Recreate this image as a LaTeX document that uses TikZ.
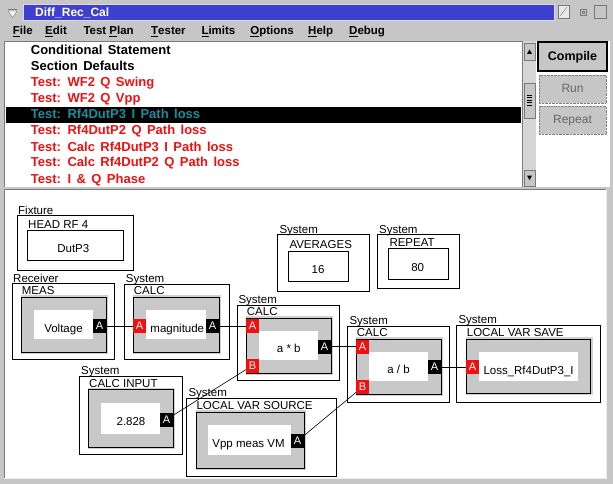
\documentclass[tikz,border=0pt]{standalone}
\usepackage{fontspec}
\setmainfont{Liberation Sans}
\newfontfamily\listfont{Liberation Sans}[WordSpace=1.5]
\definecolor{winbg}{HTML}{C6C6C6}
\definecolor{titleblue}{HTML}{4040D0}
\definecolor{listred}{HTML}{EE1111}
\definecolor{selteal}{HTML}{1E8C9C}
\definecolor{boxgray}{HTML}{C8C8C8}
\definecolor{portred}{HTML}{F01010}
\definecolor{trackgray}{HTML}{D6D6D6}
\definecolor{edgegray}{HTML}{7A7A7A}
\begin{document}
\begin{tikzpicture}[x=1pt,y=-1pt,
  lbl/.style={anchor=base west,inner sep=0pt,font=\fontsize{11.5}{13}\selectfont},
  val/.style={anchor=base,inner sep=0pt,font=\fontsize{11.5}{13}\selectfont},
  item/.style={anchor=base west,inner sep=0pt,font=\listfont\bfseries\fontsize{13}{15}\selectfont,text=listred},
  menu/.style={anchor=base west,inner sep=0pt,font=\bfseries\fontsize{11.5}{13}\selectfont},
  port/.style={minimum width=12.6pt,minimum height=14pt,inner sep=0pt,text=white,font=\fontsize{11}{13}\selectfont},
  portout/.style={port,fill=black},
  portin/.style={port,fill=portred},
  frame/.style={draw=black,line width=0.9pt},
  face/.style={draw=black,fill=boxgray,line width=0.9pt},
  rim/.style={fill=boxgray!85!white},
  well/.style={fill=white},
  wire/.style={draw=black,line width=0.9pt},
  slant/.style={draw=black,line width=0.6pt}]
\useasboundingbox (0,0) rectangle (613,484);

% window, title bar and menus
\fill[winbg] (0,0) rectangle (613,484);
\fill[titleblue] (23,4) rectangle (555,21);
\draw[white!80!titleblue] (23.5,4.5) rectangle (554.5,20.5);
\node[anchor=base west,inner sep=0pt,text=white,font=\bfseries\fontsize{12}{14}\selectfont] (title) at (35,17) {Diff\_Rec\_Cal};
\draw[edgegray] (8,9) -- (17,9);
\draw[edgegray,fill=white!85!winbg] (8,11) -- (12.5,17.5) -- (17,11) -- cycle;
\draw[edgegray,fill=white!60!winbg] (558,5) rectangle (569,18);
\draw[edgegray] (560,16) -- (567,7);
\draw[edgegray] (580,9) rectangle (586,15);
\draw[edgegray] (582,11) rectangle (584,13);
\draw[edgegray] (594,5) rectangle (606,18);

\node[menu] (mFile) at (12.7,35) {\underline{F}ile};
\node[menu] (mEdit) at (45,35) {\underline{E}dit};
\node[menu] (mPlan) at (83.3,35) {Test \underline{P}lan};
\node[menu] (mTester) at (151,35) {\underline{T}ester};
\node[menu] (mLimits) at (201.3,35) {\underline{L}imits};
\node[menu] (mOptions) at (250.2,35) {\underline{O}ptions};
\node[menu] (mHelp) at (308,35) {\underline{H}elp};
\node[menu] (mDebug) at (349,35) {\underline{D}ebug};

% test list
\fill[white] (4.5,41) rectangle (522.5,187);
\draw[edgegray] (4.5,187) -- (4.5,41) -- (522.5,41);
\fill[black] (6,107) rectangle (521,123);
\node[item,text=black] (cond) at (30.7,55) {Conditional Statement};
\node[item,text=black] (secdef) at (30.7,71) {Section Defaults};
\node[item] (swing) at (30.7,87) {Test: WF2 Q Swing};
\node[item] (vpp) at (30.7,103) {Test: WF2 Q Vpp};
\node[item,text=selteal] (selP3) at (30.7,119) {Test: Rf4DutP3 I Path loss};
\node[item] (lossP2) at (30.7,135) {Test: Rf4DutP2 Q Path loss};
\node[item] (calcP3) at (30.7,151) {Test: Calc Rf4DutP3 I Path loss};
\node[item] (calcP2) at (30.7,167) {Test: Calc Rf4DutP2 Q Path loss};
\node[item] (phase) at (30.7,183) {Test: I \& Q Phase};

% scroll bar
\fill[trackgray] (522.5,41) rectangle (536,187);
\draw[edgegray] (522.5,41) -- (522.5,187);
\draw[edgegray,fill=winbg] (524,43) rectangle (535,60);
\fill[black] (527,54) -- (532,54) -- (529.5,49.5) -- cycle;
\draw[edgegray,fill=winbg] (524,83) rectangle (535,118);
\draw[black] (527,95) -- (532,95) (527,97.5) -- (532,97.5) (527,100) -- (532,100) (527,102.5) -- (532,102.5) (527,105) -- (532,105);
\draw[edgegray,fill=winbg] (524,170) rectangle (535,186);
\fill[black] (527,175.5) -- (532,175.5) -- (529.5,180) -- cycle;

% buttons
\fill[white] (536,41) rectangle (610,187);
\draw[black,line width=2.2pt,fill=winbg] (538.1,42.1) rectangle (606.9,70.9);
\node[anchor=base,inner sep=0pt,font=\bfseries\fontsize{12.5}{14}\selectfont] (compile) at (572.5,61) {Compile};
\draw[gray,densely dotted,fill=winbg] (539,75) rectangle (606,103);
\node[anchor=base,inner sep=0pt,text=gray!80!black,font=\fontsize{12}{14}\selectfont] (run) at (572.5,93) {Run};
\draw[gray,densely dotted,fill=winbg] (539,106) rectangle (606,134);
\node[anchor=base,inner sep=0pt,text=gray!80!black,font=\fontsize{12}{14}\selectfont] (repeatBtn) at (572.5,124) {Repeat};

% diagram panel
\fill[white] (4,189) rectangle (606,478);
\draw[edgegray] (4,478) -- (4,189) -- (606,189);
\draw[white!70!winbg] (606,189) -- (606,478) -- (4,478);

% fixture
\draw[frame] (17,215) rectangle (133,270);
\node[lbl] (fixLbl) at (18,214) {Fixture};
\node[lbl] (headLbl) at (28,228.2) {HEAD RF 4};
\draw[frame] (27.3,230.7) rectangle (123.3,260.7);
\node[val] (dutP3) at (73.3,252.3) {DutP3};

% averages and repeat
\draw[frame] (277.3,234.3) rectangle (369.3,291);
\node[lbl] (avgSys) at (279.3,233) {System};
\node[lbl] (avgLbl) at (289.3,248.5) {AVERAGES};
\draw[frame] (288.3,251) rectangle (348.3,281);
\node[val] (avgVal) at (318,273.3) {16};

\draw[frame] (377.3,234.3) rectangle (459.3,288.7);
\node[lbl] (repSys) at (379,233) {System};
\node[lbl] (repLbl) at (389.3,246) {REPEAT};
\draw[frame] (388.3,248.3) rectangle (448.3,279.3);
\node[val] (repVal) at (417.7,271) {80};

% receiver
\draw[frame] (12.3,283.3) rectangle (114.3,359.3);
\node[lbl] (recSys) at (13,282) {Receiver};
\node[lbl] (measLbl) at (21.7,294.2) {MEAS};
\fill[rim] (21,295) rectangle (108,354);
\draw[face] (21,297) rectangle (106,352);
\fill[well] (34,310) rectangle (93,339);
\node[val] (voltage) at (63.5,332.3) {Voltage};

% magnitude
\draw[frame] (124.3,284) rectangle (229.3,359.3);
\node[lbl] (magSys) at (125.7,282.5) {System};
\node[lbl] (magLbl) at (133.7,294.8) {CALC};
\fill[rim] (133,295) rectangle (221,354);
\draw[face] (133,297) rectangle (219,352);
\fill[well] (146,310) rectangle (206.4,339);
\node[val] (magnitude) at (177.3,332.3) {magnitude};

% a * b
\draw[frame] (237.3,305) rectangle (339.3,380.7);
\node[lbl] (mulSys) at (238.3,303.5) {System};
\node[lbl] (mulLbl) at (246.7,315.5) {CALC};
\fill[rim] (246,316) rectangle (333,375);
\draw[face] (246,318) rectangle (331,373);
\fill[well] (259,330.7) rectangle (317.6,360);
\node[val] (mulTxt) at (288.8,352.3) {a * b};

% a / b
\draw[frame] (347.3,326) rectangle (449.3,402.3);
\node[lbl] (divSys) at (349.3,324.5) {System};
\node[lbl] (divLbl) at (356.7,336.8) {CALC};
\fill[rim] (356,337.3) rectangle (443,396.3);
\draw[face] (356,339.3) rectangle (441,394.3);
\fill[well] (369,351.7) rectangle (428.2,380.7);
\node[val] (divTxt) at (398.5,373.3) {a / b};

% local var save
\draw[frame] (456,325) rectangle (600.7,402.3);
\node[lbl] (saveSys) at (458.3,323.5) {System};
\node[lbl] (saveLbl) at (466.7,336.5) {LOCAL VAR SAVE};
\fill[rim] (466,337) rectangle (592.7,395.3);
\draw[face] (466,339) rectangle (590.7,393.3);
\fill[well] (478.8,351.7) rectangle (578.3,380.7);
\node[lbl] (saveTxt) at (483.3,374) {Loss\_Rf4DutP3\_I};

% calc input
\draw[frame] (79.3,376) rectangle (182.5,454.6);
\node[lbl] (inSys) at (81,374.5) {System};
\node[lbl] (inLbl) at (89,387) {CALC INPUT};
\fill[rim] (88.3,387.5) rectangle (175,449);
\draw[face] (88.3,389.5) rectangle (173,447);
\fill[well] (101,402.7) rectangle (160.2,433.8);
\node[val] (inTxt) at (131,425) {2.828};

% local var source
\draw[frame] (186.6,398) rectangle (336.4,476.4);
\node[lbl] (srcSys) at (188.3,396.5) {System};
\node[lbl] (srcLbl) at (196.3,409.9) {LOCAL VAR SOURCE};
\fill[rim] (196.3,410.4) rectangle (306,470.4);
\draw[face] (196.3,412.4) rectangle (304,468.4);
\fill[well] (208.4,425) rectangle (290.7,455);
\node[val] (srcTxt) at (248.5,447.5) {Vpp meas VM};

% ports
\node[portout] (measA) at (99.5,326) {A};
\node[portin] (magIn) at (139.5,326) {A};
\node[portout] (magOut) at (212.5,326) {A};
\node[portin] (mulA) at (252.5,326) {A};
\node[portin] (mulB) at (252.5,365.5) {B};
\node[portout] (mulOut) at (324.5,346.5) {A};
\node[portin] (divA) at (362.5,346.5) {A};
\node[portin] (divB) at (362.5,387) {B};
\node[portout] (divOut) at (434.5,367) {A};
\node[portin] (saveA) at (472.5,367) {A};
\node[portout] (inA) at (166.5,419.5) {A};
\node[portout] (srcA) at (297.5,441) {A};

% connections
\draw[wire] (measA) -- (magIn);
\draw[wire] (magOut) -- (mulA);
\draw[wire] (mulOut) -- (divA);
\draw[wire] (divOut) -- (saveA);
\draw[slant] (inA) -- (mulB);
\draw[slant] (srcA) -- (divB);

\end{tikzpicture}
\end{document}
